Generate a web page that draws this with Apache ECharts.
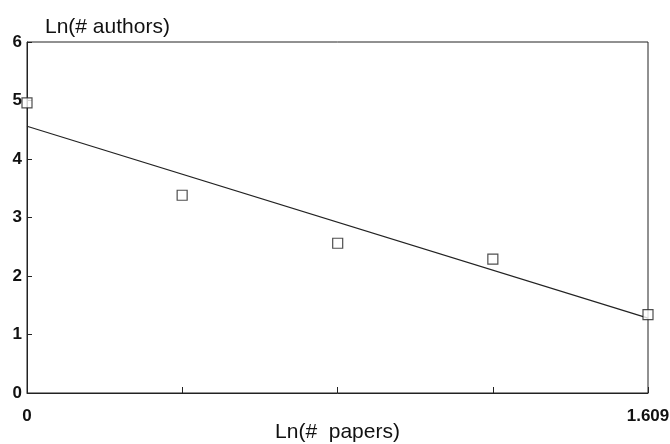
<!DOCTYPE html>
<html>
<head>
<meta charset="utf-8">
<script src="https://cdn.jsdelivr.net/npm/echarts@6/dist/echarts.min.js"></script>
<style>html,body{margin:0;padding:0;background:#fff;}#c{width:670px;height:444px;}</style>
</head>
<body>
<div id="c"></div>
<script>
var xValues = [0, 0.402, 0.805, 1.207, 1.609];
var yValues = [4.96, 3.38, 2.56, 2.29, 1.34];
var fitX = [0, 1.609];
var fitY = [4.56, 1.28];
var xTickLabels = ['0', '', '', '', '1.609'];
var yTickLabels = ['0', '1', '2', '3', '4', '5', '6'];
var xName = 'Ln(#  papers)';
var yName = 'Ln(# authors)';

var font = '"Liberation Sans", Arial, Helvetica, sans-serif';
var chart = echarts.init(document.getElementById('c'));
chart.setOption({
  animation: false,
  backgroundColor: '#fff',
  grid: { left: 27, right: 22, top: 42, bottom: 51, show: true, borderColor: '#222', borderWidth: 1, backgroundColor: 'transparent', outerBoundsMode: 'none', containLabel: false },
  xAxis: {
    type: 'value', min: 0, max: 1.609, interval: 1.609 / 4,
    name: xName, nameLocation: 'middle', nameGap: 29, nameMoveOverlap: false,
    nameTextStyle: { fontFamily: font, fontSize: 21, color: '#111' },
    axisLine: { show: true, lineStyle: { color: '#222', width: 1 } },
    axisTick: { show: true, inside: true, length: 6, lineStyle: { color: '#222' } },
    splitLine: { show: false },
    axisLabel: {
      margin: 15, fontFamily: font, fontSize: 17, fontWeight: 'bold', color: '#111', showMaxLabel: true, showMinLabel: true,
      formatter: function (v, i) {
        var idx = Math.round(v / (1.609 / 4));
        return xTickLabels[idx] !== undefined ? xTickLabels[idx] : '';
      }
    }
  },
  yAxis: {
    type: 'value', min: 0, max: 6, interval: 1,
    name: yName, nameLocation: 'end', nameGap: 4, nameMoveOverlap: false,
    nameTextStyle: { fontFamily: font, fontSize: 21, color: '#111', align: 'left', padding: [0, 0, 0, 18] },
    axisLine: { show: true, lineStyle: { color: '#222', width: 1 } },
    axisTick: { show: true, inside: true, length: 5, lineStyle: { color: '#222' } },
    splitLine: { show: false },
    axisLabel: {
      margin: 5, fontFamily: font, fontSize: 17, fontWeight: 'bold', color: '#111',
      formatter: function (v) { return yTickLabels[Math.round(v)]; }
    }
  },
  series: [
    {
      type: 'line', data: fitX.map(function (x, i) { return [x, fitY[i]]; }),
      symbol: 'none', lineStyle: { color: '#222', width: 1.2 }, z: 2
    },
    {
      type: 'scatter', data: xValues.map(function (x, i) { return [x, yValues[i]]; }),
      symbol: 'rect', symbolSize: 10,
      itemStyle: { color: '#fff', borderColor: '#222', borderWidth: 1.2 }, z: 3
    }
  ]
});
</script>
</body>
</html>
